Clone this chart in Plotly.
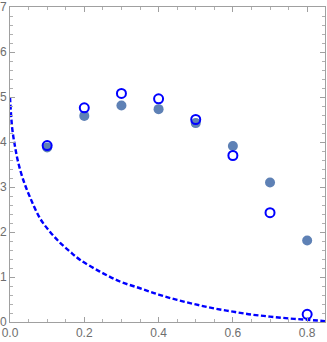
import plotly.graph_objects as go

x_pts = [0.1, 0.2, 0.3, 0.4, 0.5, 0.6, 0.7, 0.8]
y_filled = [3.88, 4.58, 4.81, 4.73, 4.42, 3.91, 3.10, 1.81]
y_open = [3.92, 4.76, 5.08, 4.96, 4.50, 3.70, 2.43, 0.17]

curve_x = [0.0, 0.006, 0.0135, 0.022, 0.036, 0.054, 0.081, 0.108, 0.135, 0.162, 0.189,
           0.242, 0.296, 0.35, 0.40, 0.45, 0.50, 0.55, 0.60, 0.65, 0.70, 0.75, 0.80, 0.848]
curve_y = [5.0, 4.3, 3.9, 3.55, 3.15, 2.77, 2.3, 2.0, 1.76, 1.56, 1.38,
           1.12, 0.90, 0.75, 0.61, 0.49, 0.39, 0.30, 0.23, 0.165, 0.12, 0.08, 0.05, 0.02]

fig = go.Figure()
fig.add_trace(go.Scatter(x=curve_x, y=curve_y, mode="lines", line_shape="spline",
                         line=dict(color="#0000ff", width=2.4, dash="5px,2.5px"), hoverinfo="skip"))
fig.add_trace(go.Scatter(x=x_pts, y=y_filled, mode="markers",
                         marker=dict(color="#5e81b5", size=10, line=dict(width=0))))
fig.add_trace(go.Scatter(x=x_pts, y=y_open, mode="markers",
                         marker=dict(symbol="circle-open", color="#0000ff", size=9,
                                     line=dict(width=2, color="#0000ff"))))

axis_common = dict(showgrid=False, zeroline=False, showline=True, linecolor="#a0a0a0",
                   linewidth=1, mirror="allticks", ticks="inside", tickcolor="#a0a0a0",
                   ticklen=5, tickwidth=1, tickfont=dict(family="Liberation Sans", size=12, color="#6e6e6e"),
                   automargin=False)

fig.update_layout(
    width=327, height=342, margin=dict(l=10, r=2, t=7, b=20),
    paper_bgcolor="white", plot_bgcolor="white", showlegend=False,
    xaxis=dict(range=[0, 0.848], tickvals=[0, 0.2, 0.4, 0.6, 0.8],
               ticktext=["0.0", "0.2", "0.4", "0.6", "0.8"],
               minor=dict(dtick=0.05, tick0=0, ticks="inside", ticklen=3, tickcolor="#b0b0b0"),
               **axis_common),
    yaxis=dict(range=[0, 7], tickvals=[0, 1, 2, 3, 4, 5, 6, 7],
               minor=dict(dtick=0.2, tick0=0, ticks="inside", ticklen=3, tickcolor="#b0b0b0"),
               **axis_common),
)
fig.write_html("out.html", config={"displayModeBar": False},
               post_script="document.body.style.margin='0';document.body.style.overflow='hidden';")
